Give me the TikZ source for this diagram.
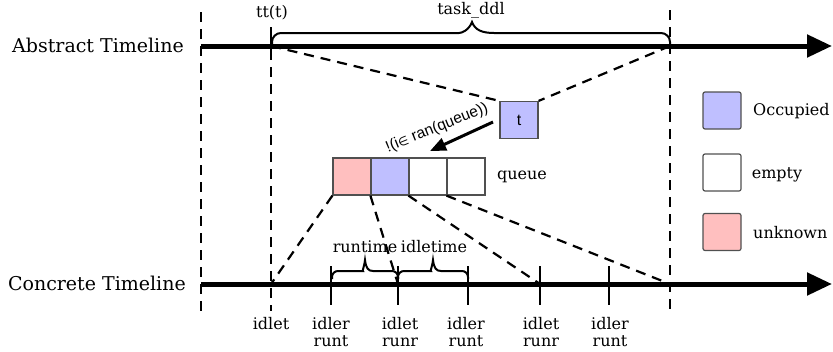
\documentclass[tikz,border=0pt]{standalone}
\usepackage{fontspec}
\setmainfont{DejaVu Serif}
\newfontfamily\labelsans{Liberation Sans}
\newfontfamily\symsans{DejaVu Sans}
\usetikzlibrary{arrows.meta,calc}

\definecolor{occfill}{RGB}{191,191,255}
\definecolor{unkfill}{RGB}{255,191,191}
\definecolor{boxline}{RGB}{80,80,80}

\tikzset{
  timeline/.style={line width=5pt,-{Triangle[length=25pt,width=22pt]}},
  guide/.style={line width=2.2pt,dash pattern=on 10pt off 7pt},
  tickmark/.style={line width=2pt},
  bracepen/.style={line width=2pt},
  cell/.style={draw=boxline,line width=1.2pt,minimum width=38pt,minimum height=37pt,inner sep=0pt,
               font=\labelsans\fontsize{16}{18}\selectfont},
  keycell/.style={cell,rounded corners=2pt},
  lbl/.style={font=\fontsize{16}{17}\selectfont,inner sep=0pt,align=center},
  biglbl/.style={font=\fontsize{19}{21}\selectfont,inner sep=0pt,anchor=east},
  pushed/.style={line width=3pt,-{Triangle[length=16pt,width=13pt]}}
}

\begin{document}
\begin{tikzpicture}[x=1pt,y=-1pt]
\useasboundingbox (0,0) rectangle (833,351);

% points on the two time axes
\coordinate (a0) at (201,46);
\coordinate (aend) at (832,46);
\coordinate (att) at (271,46);
\coordinate (addl) at (670,46);
\coordinate (c0) at (201,284);
\coordinate (cend) at (832,284);
\coordinate (k0) at (271,284);
\coordinate (k1) at (331,284);
\coordinate (k2) at (398,284);
\coordinate (k3) at (468,284);
\coordinate (k4) at (540,284);
\coordinate (k5) at (609,284);
\coordinate (kddl) at (670,284);

% vertical guides
\draw[guide] (201,12) -- (201,311);
\draw[guide] (670,10) -- (670,312);
\draw[guide] (271,50) -- (271,311);
\draw[tickmark] (271,27) -- (271,50);

% time axes
\node[biglbl] (abslbl) at (184,45) {Abstract Timeline};
\node[biglbl] (conlbl) at (186,283) {Concrete Timeline};
\draw[timeline] (a0) -- (aend);
\draw[timeline] (c0) -- (cend);

% ticks on the concrete axis
\foreach \k in {k1,k2,k3,k4,k5}
  \draw[tickmark] ($(\k)+(0,-18)$) -- ($(\k)+(0,21)$);

% task deadline brace
\draw[bracepen] (272,45) [rounded corners=9pt] |- (450,33) [sharp corners]
  .. controls (462,33) and (469,30) .. (472,22)
  .. controls (475,30) and (482,33) .. (494,33) [rounded corners=9pt] -| (670,45);
\node[lbl] (ttlbl) at (272,13) {tt(t)};
\node[lbl] (ddllbl) at (471,10) {task\_ddl};

% run / idle braces
\draw[bracepen] (332,279) [rounded corners=6pt] |- (357,271) [sharp corners]
  .. controls (362,271) and (364,268) .. (365,260)
  .. controls (366,268) and (368,271) .. (373,271) [rounded corners=6pt] -| (398,279);
\draw[bracepen] (398,279) [rounded corners=6pt] |- (425,271) [sharp corners]
  .. controls (430,271) and (432,268) .. (433,260)
  .. controls (434,268) and (436,271) .. (441,271) [rounded corners=6pt] -| (468,279);
\node[lbl] (runlbl) at (365,247) {runtime};
\node[lbl] (idlelbl) at (434,247) {idletime};

% task and queue
\node[cell,fill=occfill] (t) at (519,120) {t};
\node[cell,fill=unkfill] (q1) at (352,176.5) {};
\node[cell,fill=occfill] (q2) at (390,176.5) {};
\node[cell,fill=white] (q3) at (428,176.5) {};
\node[cell,fill=white] (q4) at (466,176.5) {};
\node[lbl] (qlbl) at (522,177) {queue};

% projections between the axes
\draw[guide] (att) -- (t.north west);
\draw[guide] (addl) -- (t.north east);
\draw[guide] (q1.south west) -- (k0);
\draw[guide] (q2.south west) -- (k2);
\draw[guide] (q3.south west) -- (k4);
\draw[guide] (q4.south west) -- (kddl);

% enqueue arrow
\coordinate (pushfrom) at (493,122);
\coordinate (pushto) at (430,151);
\draw[pushed] (pushfrom) -- (pushto);
\node[rotate=22,inner sep=0pt,font=\labelsans\fontsize{15.5}{17}\selectfont] (cond) at (437,128)
  {!(i{\symsans\fontsize{12}{14}\selectfont ∈} ran(queue))};

% labels under the concrete axis
\node[lbl,anchor=north] (l0) at (271,317) {idlet};
\node[lbl,anchor=north] (l1) at (331,317) {idler\\runt};
\node[lbl,anchor=north] (l2) at (400,317) {idlet\\runr};
\node[lbl,anchor=north] (l3) at (466,317) {idler\\runt};
\node[lbl,anchor=north] (l4) at (541,317) {idlet\\runr};
\node[lbl,anchor=north] (l5) at (610,317) {idler\\runt};

% key
\node[keycell,fill=occfill] (kocc) at (722,110.5) {};
\node[keycell,fill=white] (kemp) at (722,172.5) {};
\node[keycell,fill=unkfill] (kunk) at (722,232) {};
\node[lbl,anchor=west] (locc) at (753,111) {Occupied};
\node[lbl] (lemp) at (777,175) {empty};
\node[lbl,anchor=west] (lunk) at (753,233) {unknown};
\end{tikzpicture}
\end{document}
